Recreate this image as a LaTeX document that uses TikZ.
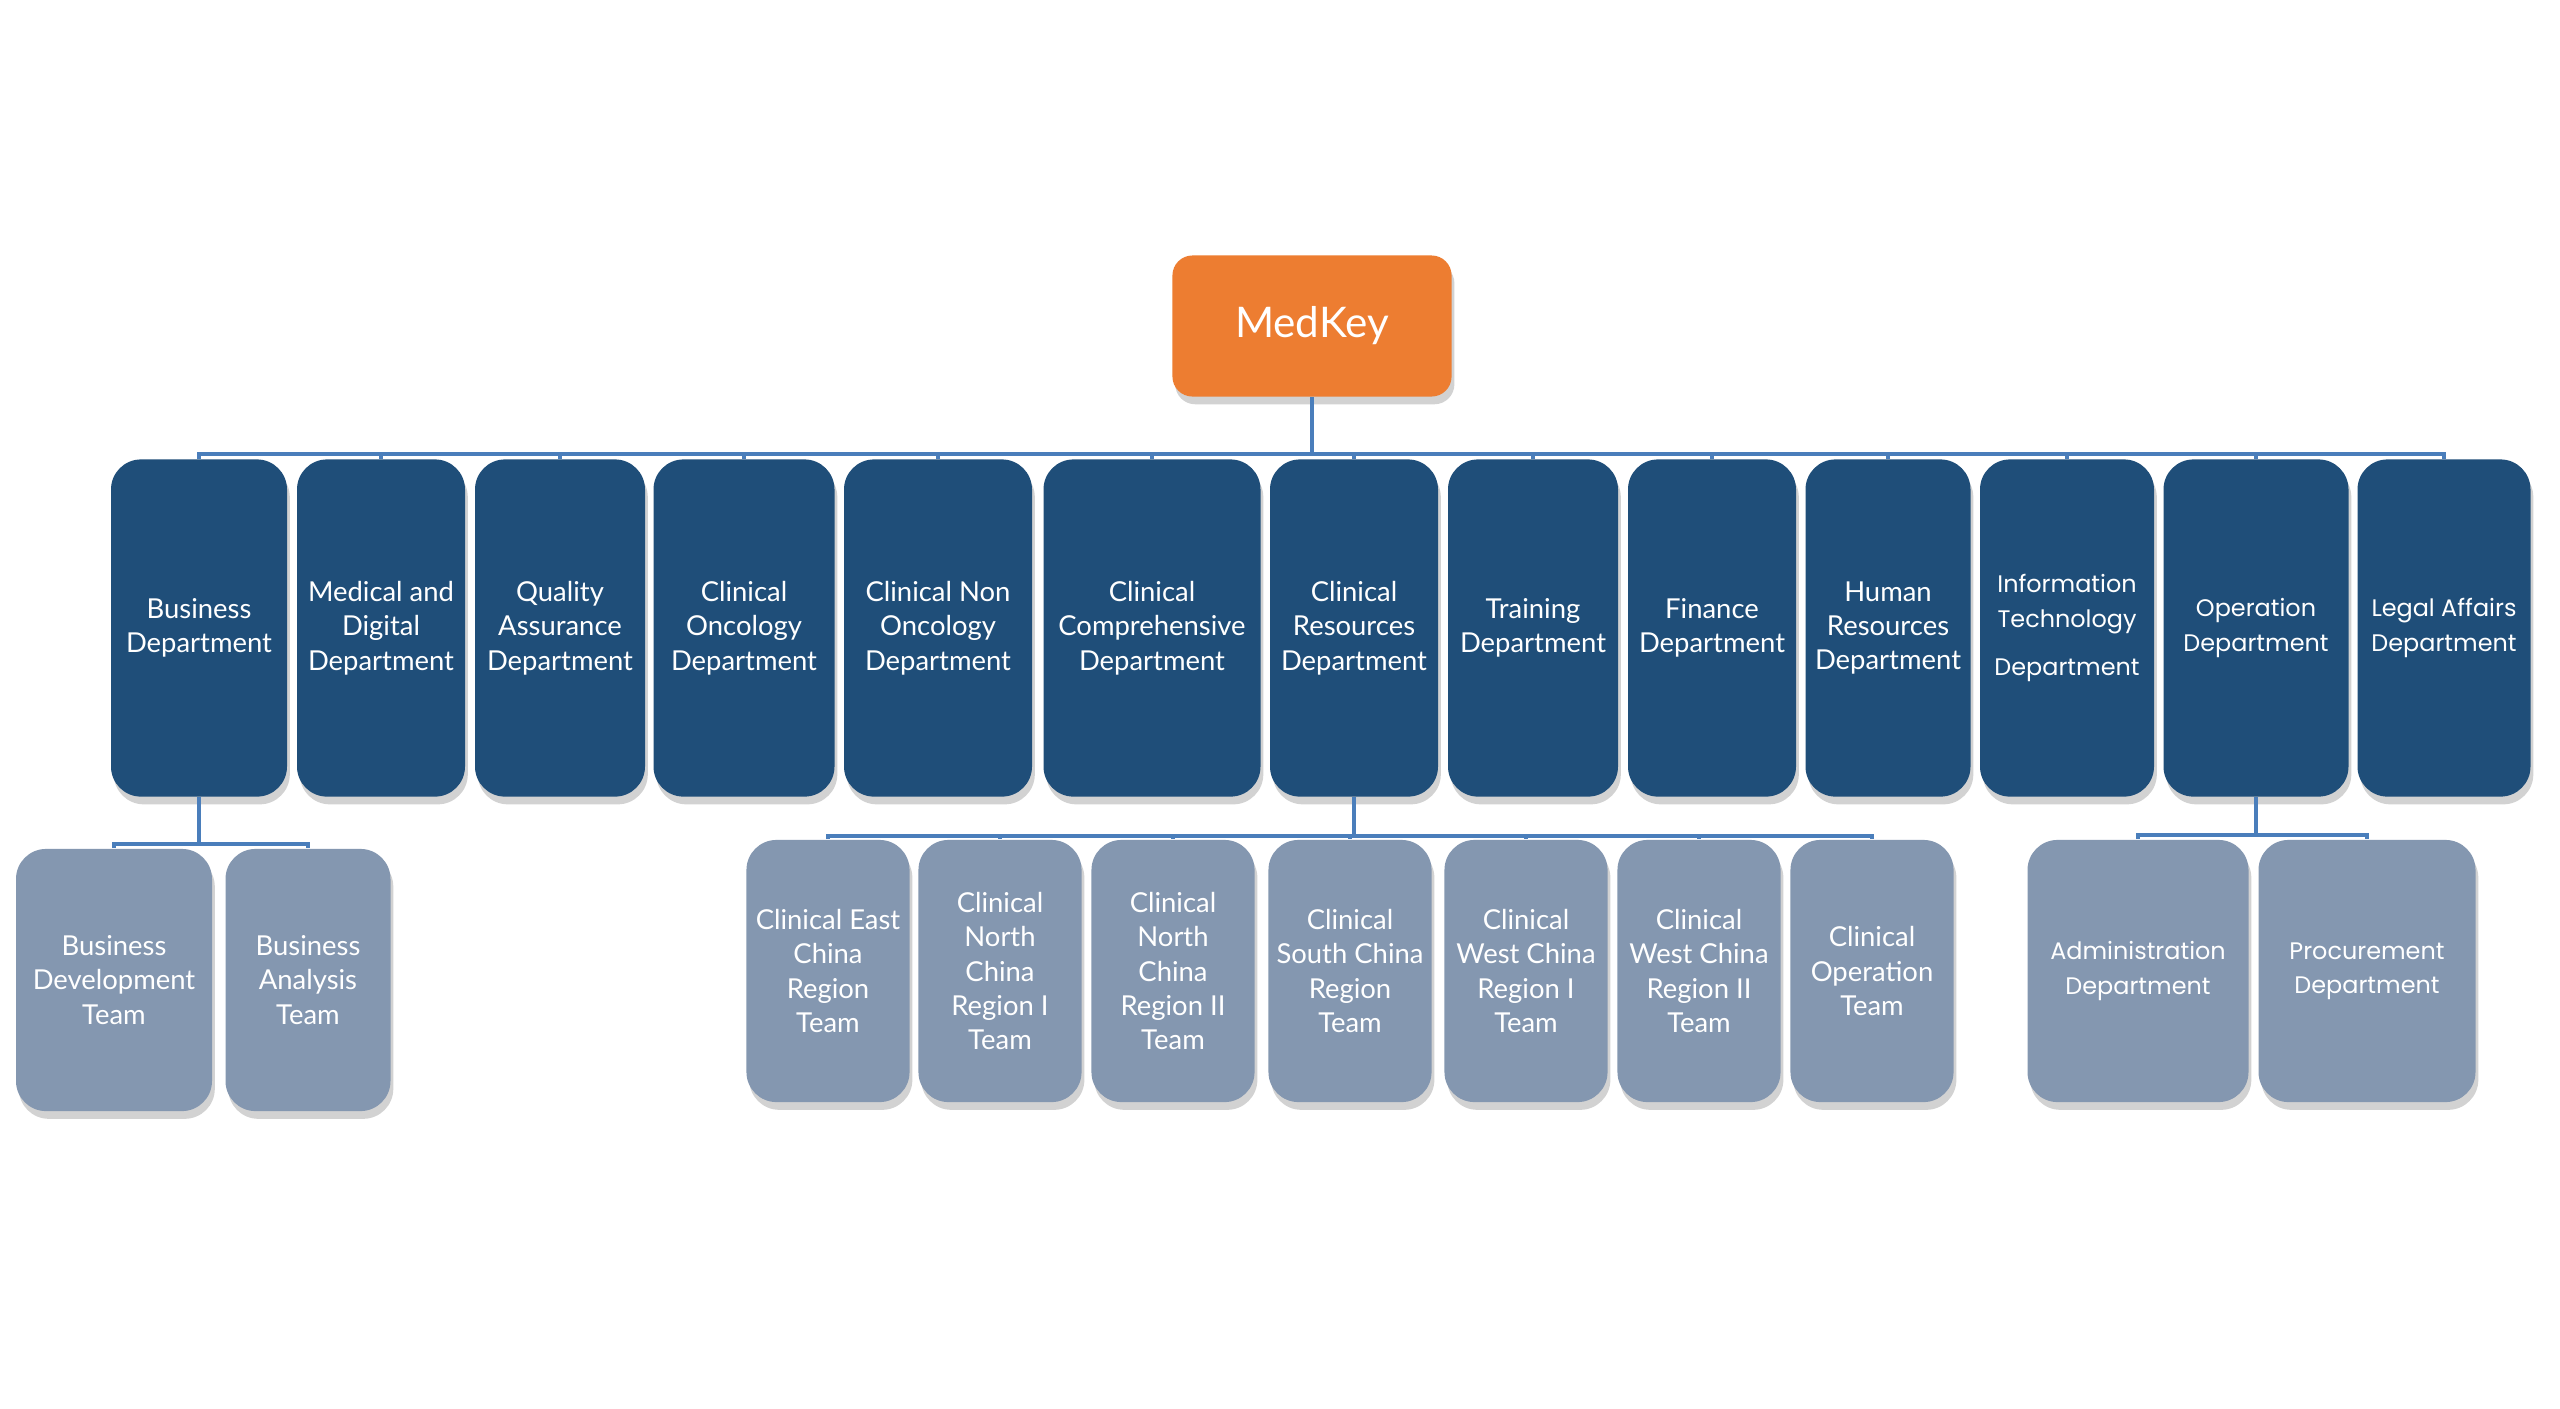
\documentclass[tikz,border=0pt]{standalone}
\usepackage{fontspec}
\usepackage{tikz}
\usetikzlibrary{shadows}
\setmainfont{Lato}
\newfontfamily\geofont{Poppins}
\definecolor{mkorange}{HTML}{ED7D31}
\definecolor{deptblue}{HTML}{1F4E79}
\definecolor{teamgray}{HTML}{8497B0}
\definecolor{linkblue}{HTML}{4A7EBB}

\begin{document}
\begin{tikzpicture}[x=0.01cm,y=-0.01cm,
  box/.style={rounded corners=0.3cm,align=center,text=white,inner sep=2pt,
    drop shadow={shadow xshift=0.8pt,shadow yshift=-2.2pt,opacity=0.35}},
  dept/.style={box,fill=deptblue,minimum height=3.37cm,
    font=\fontsize{7.8}{9.8}\selectfont},
  deptgeo/.style={dept,font=\geofont\fontsize{6.8}{10}\selectfont},
  team/.style={box,fill=teamgray,minimum height=2.62cm,
    font=\fontsize{7.8}{9.8}\selectfont},
  teamgeo/.style={team,font=\geofont\fontsize{6.8}{9.8}\selectfont},
  link/.style={draw=linkblue,line width=0.9pt}]
  \useasboundingbox[fill=white] (0,0) rectangle (2560,1408);

  \node[box,fill=mkorange,rounded corners=0.2cm,minimum width=2.79cm,
    minimum height=1.41cm,font=\fontsize{12}{14}\selectfont] (mk) at (1312,326) {MedKey};
  \coordinate (bar0) at (1312,454);
  \draw[link] (mk.south) -- (bar0);

  % departments
  \foreach \nm/\cx/\w/\st/\txt in {
    bus/199/176/dept/{Business\\Department},
    med/381/168/dept/{Medical and\\Digital\\Department},
    qa/560/170/dept/{Quality\\Assurance\\Department},
    onc/744/181/dept/{Clinical\\Oncology\\Department},
    non/938/188/dept/{Clinical Non\\Oncology\\Department},
    comp/1152/217/dept/{Clinical\\Comprehensive\\Department},
    res/1354/168/dept/{Clinical\\Resources\\Department},
    trn/1533/170/dept/{Training\\Department},
    fin/1712/168/dept/{Finance\\Department},
    hr/1888/165/dept/{Human\\Resources\\Department},
    it/2067/174/deptgeo/{Information\\Technology\\[3.5pt]Department},
    ops/2256/185/deptgeo/{Operation\\Department},
    legal/2444/173/deptgeo/{Legal Affairs\\Department}}{
    \node[\st,minimum width=\w*0.01cm] (\nm) at (\cx,628) {\txt};
    \draw[link] (bar0) -| (\nm.north);
  }

  % business teams
  \coordinate (bar1) at (199,844);
  \draw[link] (bus.south) -- (bar1);
  \foreach \nm/\cx/\w/\txt in {
    bdt/114/196/{Business\\Development\\Team},
    bat/308/165/{Business\\Analysis\\Team}}{
    \node[team,minimum width=\w*0.01cm] (\nm) at (\cx,980) {\txt};
    \draw[link] (bar1) -| (\nm.north);
  }

  % clinical region teams
  \coordinate (bar2) at (1354,836);
  \draw[link] (res.south) -- (bar2);
  \foreach \nm/\cx/\txt in {
    east/828/{Clinical East\\China\\Region\\Team},
    north1/1000/{Clinical\\North\\China\\Region I\\Team},
    north2/1173/{Clinical\\North\\China\\Region II\\Team},
    south/1350/{Clinical\\South China\\Region\\Team},
    west1/1526/{Clinical\\West China\\Region I\\Team},
    west2/1699/{Clinical\\West China\\Region II\\Team},
    copt/1872/{Clinical\\Operation\\Team}}{
    \node[team,minimum width=1.63cm] (\nm) at (\cx,971) {\txt};
    \draw[link] (bar2) -| (\nm.north);
  }

  % operation sub-departments
  \coordinate (bar3) at (2256,835);
  \draw[link] (ops.south) -- (bar3);
  \foreach \nm/\cx/\w/\txt in {
    adm/2138/221/{Administration\\Department},
    proc/2367/217/{Procurement\\Department}}{
    \node[teamgeo,minimum width=\w*0.01cm] (\nm) at (\cx,971) {\txt};
    \draw[link] (bar3) -| (\nm.north);
  }
\end{tikzpicture}
\end{document}
